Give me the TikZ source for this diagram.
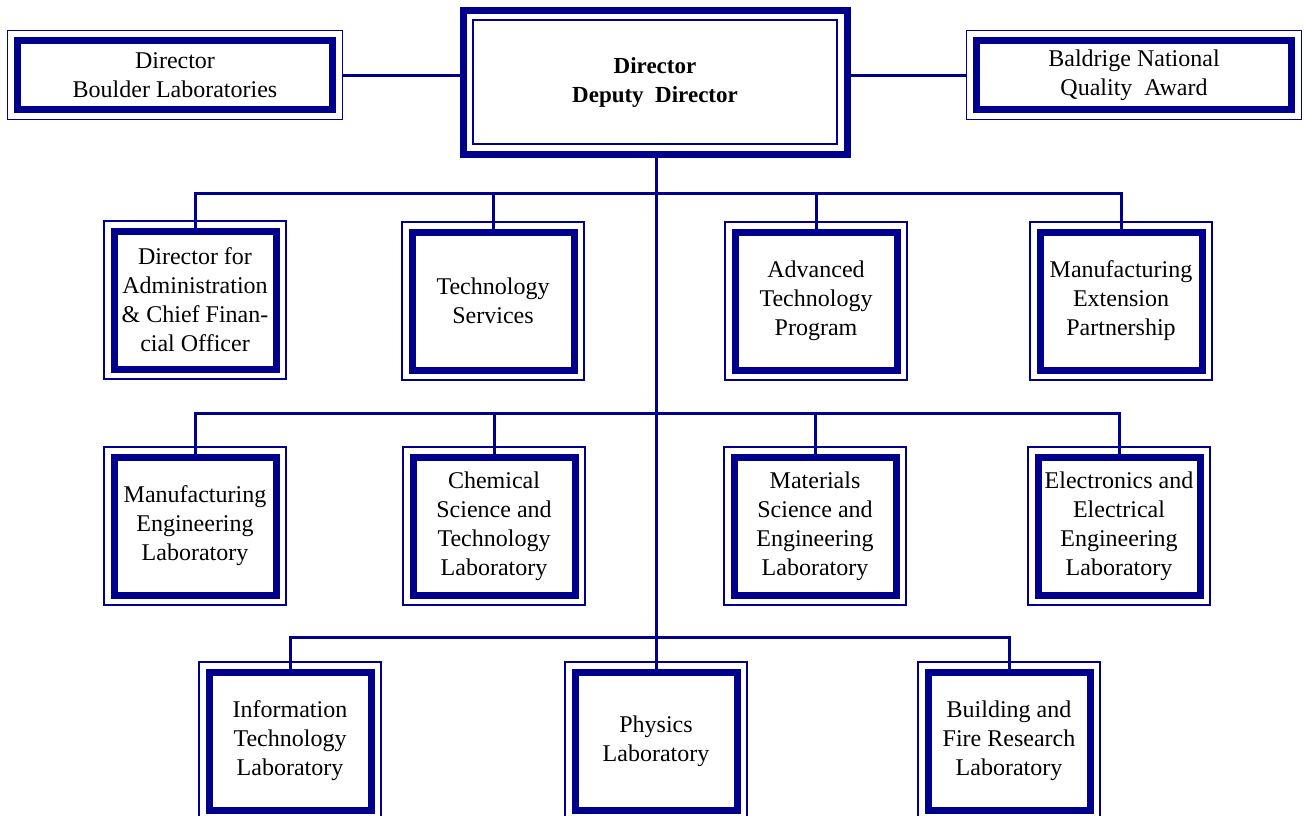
\documentclass[tikz,border=0pt]{standalone}
\usepackage{fontspec}
\setmainfont{Liberation Serif}
\usepackage{tikz}
\usetikzlibrary{positioning}
\definecolor{orgblue}{RGB}{0,0,140}
\tikzset{
  unit/.style={draw=orgblue, line width=3.5pt, rectangle, align=center,
               inner sep=0pt, outer sep=0pt, minimum width=81pt, minimum height=69pt,
               font=\fontsize{12}{14.5}\selectfont, fill=white},
  sideunit/.style={unit, minimum width=157.5pt, minimum height=34.5pt},
  headunit/.style={draw=orgblue, line width=3.5pt, rectangle, align=center,
               inner sep=0pt, outer sep=0pt, minimum width=192pt, minimum height=72pt,
               font=\fontsize{11.5}{14.5}\selectfont\bfseries},
  frame/.style={draw=orgblue, line width=0.75pt},
  link/.style={draw=orgblue, line width=1.5pt},
}
\begin{document}
\begin{tikzpicture}[x=0.5pt, y=-0.5pt]
  \useasboundingbox (0,0) rectangle (1304,815);
  % top level
  \node[headunit] (director) at (655,82)  {Director\\ Deputy\ \ Director};
  \node[sideunit] (boulder)  at (175,75)  {Director\\ Boulder Laboratories};
  \node[sideunit] (baldrige) at (1134,75) {Baldrige National\\ Quality\ \ Award};
  % first row
  \node[unit] (admin) at (195,300)  {Director for\\ Administration\\ \& Chief Finan-\\ cial Officer};
  \node[unit] (tech)  at (493,301)  {Technology\\ Services};
  \node[unit] (atp)   at (816,301)  {Advanced\\ Technology\\ Program};
  \node[unit] (mep)   at (1121,301) {Manufacturing\\ Extension\\ Partnership};
  % second row
  \node[unit] (mel)   at (195,526)  {Manufacturing\\ Engineering\\ Laboratory};
  \node[unit] (cstl)  at (494,526)  {Chemical\\ Science and\\ Technology\\ Laboratory};
  \node[unit] (msel)  at (815,526)  {Materials\\ Science and\\ Engineering\\ Laboratory};
  \node[unit] (eeel)  at (1119,526) {Electronics and\\ Electrical\\ Engineering\\ Laboratory};
  % third row
  \node[unit] (itl)   at (290,741)  {Information\\ Technology\\ Laboratory};
  \node[unit] (pl)    at (656,741)  {Physics\\ Laboratory};
  \node[unit] (bfrl)  at (1009,741) {Building and\\ Fire Research\\ Laboratory};
  % thin frames
  \foreach \n in {boulder,baldrige,admin,tech,atp,mep,mel,cstl,msel,eeel,itl,pl,bfrl}
    \draw[frame] ([shift={(-10,-10)}]\n.north west) rectangle ([shift={(10,10)}]\n.south east);
  \draw[frame] ([shift={(10,10)}]director.north west) rectangle ([shift={(-10,-10)}]director.south east);
  % buses
  \coordinate (bus1) at (656,193);
  \coordinate (bus2) at (656,413);
  \coordinate (bus3) at (656,637);
  \draw[link] ([xshift=5pt]boulder.east) -- (boulder.east -| director.west);
  \draw[link] (director.east |- baldrige.west) -- ([xshift=-5pt]baldrige.west);
  \draw[link] (director.south -| pl.north) -- (pl.north);
  \draw[link] (admin.north) |- (bus1) -| (mep.north);
  \draw[link] (tech.north) -- (tech.north |- bus1);
  \draw[link] (atp.north) -- (atp.north |- bus1);
  \draw[link] (mel.north) |- (bus2) -| (eeel.north);
  \draw[link] (cstl.north) -- (cstl.north |- bus2);
  \draw[link] (msel.north) -- (msel.north |- bus2);
  \draw[link] (itl.north) |- (bus3) -| (bfrl.north);
\end{tikzpicture}
\end{document}
